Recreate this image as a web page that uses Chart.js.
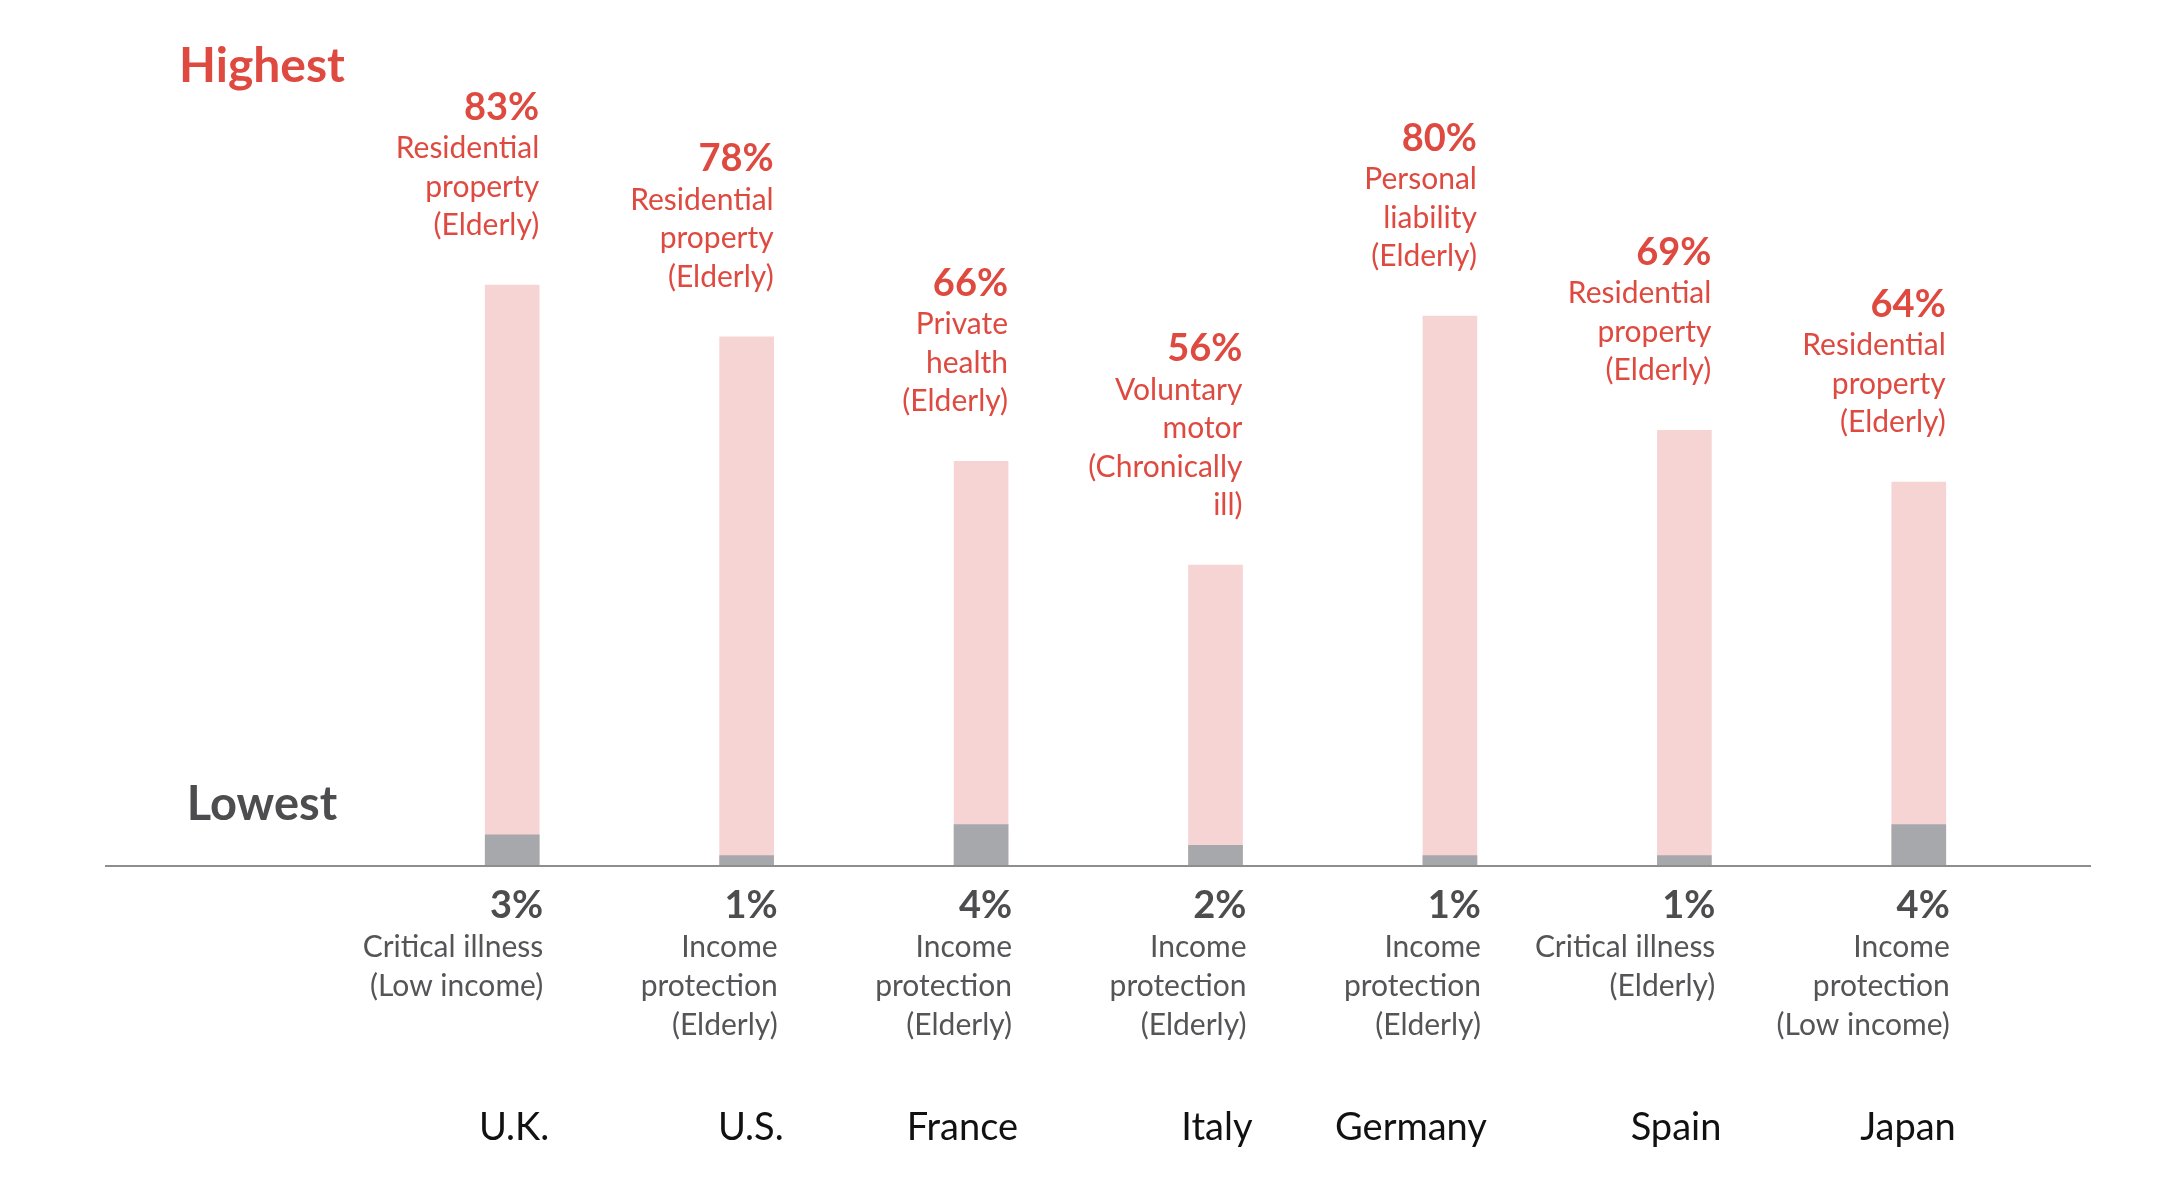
<!DOCTYPE html>
<html lang="en">
<head>
    <meta charset="UTF-8">
    <title>Highest and lowest shares by country</title>
    <script src="https://cdn.jsdelivr.net/npm/chart.js"></script>
    <style>
        body {
            margin: 0;
            background: #fff;
        }
        #wrap {
            width: 2171px;
            height: 1201px;
        }
    </style>
</head>
<body>
    <div id="wrap"><canvas id="gapChart"></canvas></div>

    <script>
        // data
        const countries = ["U.K.", "U.S.", "France", "Italy", "Germany", "Spain", "Japan"];
        const highestValues = [83, 78, 66, 56, 80, 69, 64];
        const highestProducts = [
            ["Residential", "property", "(Elderly)"],
            ["Residential", "property", "(Elderly)"],
            ["Private", "health", "(Elderly)"],
            ["Voluntary", "motor", "(Chronically", "ill)"],
            ["Personal", "liability", "(Elderly)"],
            ["Residential", "property", "(Elderly)"],
            ["Residential", "property", "(Elderly)"]
        ];
        const lowestValues = [3, 1, 4, 2, 1, 1, 4];
        const lowestProducts = [
            ["Critical illness", "(Low income)"],
            ["Income", "protection", "(Elderly)"],
            ["Income", "protection", "(Elderly)"],
            ["Income", "protection", "(Elderly)"],
            ["Income", "protection", "(Elderly)"],
            ["Critical illness", "(Elderly)"],
            ["Income", "protection", "(Low income)"]
        ];

        const RED = "#de4a40";
        const PINK = "#f7d4d4";
        const GREY = "#a7a8ab";
        const DARK = "#4d4d4f";
        const FONT = "Lato, 'Open Sans', sans-serif";

        // the pink bars start at 27% on the axis line, grey ones at 0%,
        // both with the same px per point
        const SPAN = 80;
        const HIGH_BASE = 27;

        const labelPlugin = {
            id: "labels",
            afterDatasetsDraw(chart) {
                const c = chart.ctx;
                const high = chart.getDatasetMeta(1).data;
                const axisY = chart.scales.y.getPixelForValue(0);

                c.save();
                // axis line, wider than the plot area
                c.strokeStyle = "#8e8e8e";
                c.lineWidth = 2;
                c.beginPath();
                c.moveTo(105, axisY);
                c.lineTo(2091, axisY);
                c.stroke();

                c.textAlign = "right";
                c.textBaseline = "alphabetic";
                high.forEach((bar, i) => {
                    const right = bar.x + bar.width / 2;

                    // highest: percent + product, stacked up from the bar top
                    const lines = highestProducts[i];
                    let y = bar.y - 50;
                    c.fillStyle = RED;
                    c.font = "30px " + FONT;
                    for (let k = lines.length - 1; k >= 0; k--) {
                        c.fillText(lines[k], right, y);
                        y -= 38.5;
                    }
                    c.font = "bold 38px " + FONT;
                    c.fillText(highestValues[i] + "%", right, y);

                    // lowest: below the axis line
                    let y2 = axisY + 52;
                    c.fillStyle = DARK;
                    c.font = "bold 38px " + FONT;
                    c.fillText(lowestValues[i] + "%", right + 4, y2);
                    c.fillStyle = "#555558";
                    c.font = "30px " + FONT;
                    lowestProducts[i].forEach(t => {
                        y2 += 39;
                        c.fillText(t, right + 4, y2);
                    });

                    // country name
                    c.fillStyle = "#111";
                    c.font = "38px " + FONT;
                    c.fillText(countries[i], right + 10, axisY + 274);
                });

                c.textAlign = "center";
                c.fillStyle = RED;
                c.font = "bold 48px " + FONT;
                c.fillText("Highest", 262, 82);
                c.fillStyle = DARK;
                c.font = "bold 47px " + FONT;
                c.fillText("Lowest", 262, 820);
                c.restore();
            }
        };

        const ctx = document.getElementById("gapChart").getContext("2d");
        new Chart(ctx, {
            type: "bar",
            data: {
                labels: countries,
                datasets: [
                    {
                        label: "Lowest",
                        data: lowestValues,
                        yAxisID: "y",
                        backgroundColor: GREY,
                        barThickness: 54,
                        grouped: false,
                        order: 0
                    },
                    {
                        label: "Highest",
                        data: highestValues,
                        yAxisID: "y2",
                        backgroundColor: PINK,
                        barThickness: 54,
                        grouped: false,
                        order: 1
                    }
                ]
            },
            options: {
                responsive: true,
                maintainAspectRatio: false,
                animation: false,
                layout: {
                    padding: { left: 395, right: 135, top: 36, bottom: 335 }
                },
                plugins: {
                    legend: { display: false },
                    tooltip: { enabled: false }
                },
                scales: {
                    x: { display: false },
                    y: { display: false, min: 0, max: SPAN },
                    y2: { display: false, min: HIGH_BASE, max: HIGH_BASE + SPAN }
                }
            },
            plugins: [labelPlugin]
        });
    </script>
</body>
</html>
